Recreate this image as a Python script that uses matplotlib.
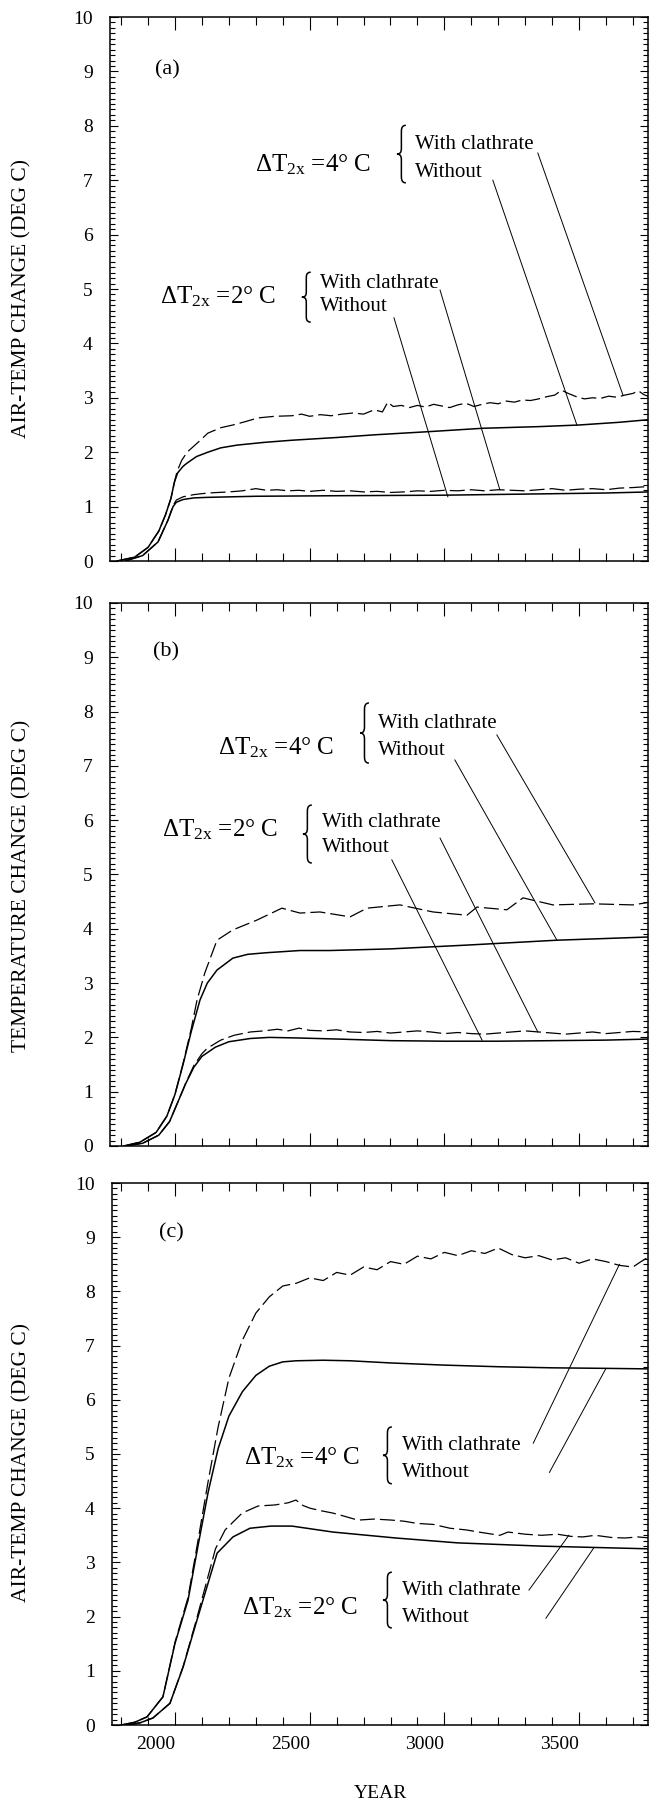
import matplotlib
matplotlib.use("Agg")
import matplotlib.pyplot as plt
from matplotlib.path import Path
from matplotlib.patches import PathPatch
from matplotlib.ticker import MultipleLocator

plt.rcParams.update({
    "font.family": ["Liberation Serif", "DejaVu Serif"],
    "mathtext.fontset": "custom",
    "mathtext.rm": "Liberation Serif",
    "mathtext.it": "Liberation Serif:italic",
    "mathtext.bf": "Liberation Serif:bold",
})

# ---------------- data ----------------
# Panel (a): air temperature change
a4_without_yr = [1785, 1850, 1900, 1940, 1965, 1985, 1998, 2010, 2030, 2045, 2080, 2122, 2170, 2230,
                 2330, 2434, 2600, 2742, 2950, 3143, 3350, 3500, 3650, 3763]
a4_without_t = [0.0, 0.07, 0.25, 0.55, 0.85, 1.15, 1.45, 1.62, 1.74, 1.80, 1.92, 2.00, 2.08, 2.13,
                2.18, 2.22, 2.27, 2.32, 2.38, 2.44, 2.47, 2.50, 2.55, 2.60]
a4_with_yr = [1785, 1850, 1900, 1940, 1965, 1985, 1998, 2008, 2025, 2045, 2090, 2122, 2170, 2215, 2260,
              2308, 2370, 2434, 2470, 2500, 2540, 2580, 2620, 2660, 2700, 2740, 2770, 2790, 2810,
              2840, 2870, 2900, 2930, 2960, 2990, 3020, 3050, 3080, 3110, 3140, 3170, 3200, 3230,
              3260, 3290, 3320, 3350, 3380, 3410, 3435, 3460, 3490, 3520, 3550, 3580, 3610, 3640,
              3670, 3700, 3720, 3740, 3760]
a4_with_t = [0.0, 0.07, 0.25, 0.55, 0.85, 1.15, 1.45, 1.65, 1.85, 2.00, 2.20, 2.35, 2.45, 2.50, 2.56,
             2.63, 2.66, 2.67, 2.70, 2.66, 2.69, 2.67, 2.70, 2.72, 2.70, 2.78, 2.74, 2.92, 2.84,
             2.86, 2.82, 2.86, 2.83, 2.88, 2.85, 2.82, 2.87, 2.90, 2.84, 2.88, 2.91, 2.89, 2.94,
             2.92, 2.96, 2.95, 2.98, 3.02, 3.05, 3.14, 3.08, 3.02, 2.98, 3.00, 2.99, 3.03, 3.01,
             3.05, 3.08, 3.13, 3.06, 3.02]
a2_without_yr = [1815, 1880, 1937, 1974, 1993, 2005, 2030, 2070, 2122, 2300, 2600, 3000, 3300, 3600, 3763]
a2_without_t = [0.0, 0.10, 0.35, 0.75, 1.00, 1.08, 1.13, 1.16, 1.17, 1.19, 1.20, 1.21, 1.23, 1.25, 1.27]
a2_with_yr = [1815, 1880, 1937, 1974, 1993, 2005, 2030, 2070, 2122, 2200, 2250, 2300, 2340, 2380, 2420,
              2460, 2500, 2550, 2600, 2650, 2700, 2750, 2800, 2850, 2900, 2950, 3000, 3050, 3100,
              3150, 3200, 3250, 3300, 3350, 3400, 3450, 3500, 3550, 3600, 3650, 3700, 3760]
a2_with_t = [0.0, 0.10, 0.35, 0.75, 1.02, 1.12, 1.18, 1.22, 1.25, 1.27, 1.29, 1.33, 1.30, 1.31, 1.29,
             1.30, 1.28, 1.30, 1.28, 1.29, 1.27, 1.28, 1.26, 1.27, 1.29, 1.28, 1.30, 1.29, 1.31,
             1.29, 1.31, 1.30, 1.29, 1.31, 1.33, 1.30, 1.32, 1.33, 1.31, 1.34, 1.35, 1.37]

# Panel (b): temperature change
b4_without_yr = [1810, 1870, 1930, 1970, 2000, 2030, 2060, 2093, 2120, 2156, 2215, 2270, 2341, 2464,
                 2575, 2800, 3084, 3418, 3763]
b4_without_t = [0.0, 0.07, 0.25, 0.55, 0.95, 1.50, 2.10, 2.69, 3.00, 3.24, 3.46, 3.53, 3.56, 3.60,
                3.60, 3.63, 3.70, 3.79, 3.85]
b4_with_yr = [1810, 1870, 1930, 1970, 2000, 2030, 2060, 2082, 2111, 2156, 2215, 2304, 2397, 2464, 2538,
              2650, 2713, 2835, 2958, 3084, 3121, 3232, 3292, 3403, 3552, 3700, 3763]
b4_with_t = [0.0, 0.07, 0.25, 0.55, 0.95, 1.52, 2.15, 2.69, 3.19, 3.79, 3.98, 4.16, 4.38, 4.29, 4.31,
             4.22, 4.38, 4.44, 4.31, 4.25, 4.40, 4.35, 4.57, 4.44, 4.46, 4.44, 4.49]
b2_without_yr = [1815, 1880, 1940, 1980, 2010, 2040, 2070, 2100, 2150, 2200, 2280, 2350, 2450, 2600,
                 2800, 3000, 3200, 3400, 3600, 3763]
b2_without_t = [0.0, 0.05, 0.20, 0.45, 0.80, 1.15, 1.45, 1.65, 1.82, 1.92, 1.98, 2.00, 1.99, 1.97,
                1.94, 1.93, 1.93, 1.94, 1.95, 1.97]
b2_with_yr = [1815, 1880, 1940, 1980, 2010, 2040, 2070, 2100, 2120, 2170, 2220, 2280, 2330, 2380, 2420,
              2460, 2500, 2550, 2600, 2650, 2700, 2750, 2800, 2850, 2900, 2950, 3000, 3050, 3100,
              3150, 3200, 3250, 3300, 3350, 3400, 3450, 3500, 3550, 3600, 3650, 3700, 3760]
b2_with_t = [0.0, 0.05, 0.20, 0.45, 0.80, 1.16, 1.48, 1.70, 1.80, 1.95, 2.04, 2.10, 2.12, 2.15, 2.12,
             2.17, 2.13, 2.12, 2.14, 2.10, 2.09, 2.11, 2.08, 2.10, 2.12, 2.10, 2.07, 2.09, 2.07,
             2.06, 2.08, 2.10, 2.12, 2.10, 2.08, 2.06, 2.08, 2.10, 2.07, 2.09, 2.11, 2.10]

# Panel (c): air temperature change
c4_without_yr = [1800, 1850, 1896, 1955, 2000, 2048, 2085, 2123, 2160, 2200, 2250, 2300, 2350, 2400,
                 2450, 2550, 2650, 2800, 3000, 3200, 3400, 3600, 3763]
c4_without_t = [0.0, 0.05, 0.15, 0.52, 1.51, 2.30, 3.30, 4.30, 5.10, 5.70, 6.15, 6.45, 6.62, 6.70,
                6.72, 6.73, 6.72, 6.68, 6.64, 6.61, 6.59, 6.58, 6.57]
c4_with_yr = [1800, 1850, 1896, 1955, 2000, 2048, 2085, 2123, 2160, 2200, 2250, 2300, 2350, 2400, 2450,
              2500, 2550, 2600, 2650, 2700, 2750, 2800, 2850, 2900, 2950, 3000, 3050, 3100, 3150,
              3200, 3250, 3300, 3350, 3400, 3450, 3500, 3550, 3600, 3650, 3700, 3730, 3763]
c4_with_t = [0.0, 0.05, 0.15, 0.52, 1.53, 2.35, 3.40, 4.50, 5.50, 6.40, 7.10, 7.60, 7.90, 8.10, 8.15,
             8.25, 8.20, 8.35, 8.30, 8.45, 8.40, 8.55, 8.50, 8.65, 8.60, 8.72, 8.66, 8.75, 8.70,
             8.80, 8.68, 8.62, 8.66, 8.58, 8.62, 8.52, 8.60, 8.55, 8.48, 8.45, 8.55, 8.65]
c2_without_yr = [1820, 1870, 1918, 1981, 2030, 2078, 2104, 2156, 2215, 2278, 2356, 2434, 2586, 2820,
                 3050, 3362, 3763]
c2_without_t = [0.0, 0.04, 0.13, 0.40, 1.07, 1.88, 2.31, 3.17, 3.47, 3.63, 3.67, 3.67, 3.56, 3.45,
                3.36, 3.30, 3.25]
c2_with_yr = [1820, 1870, 1918, 1981, 2030, 2078, 2104, 2150, 2186, 2249, 2308, 2371, 2420, 2449, 2475,
              2501, 2545, 2586, 2630, 2679, 2740, 2805, 2850, 2898, 2960, 3021, 3080, 3140, 3206,
              3236, 3300, 3362, 3420, 3470, 3514, 3560, 3620, 3670, 3720, 3763]
c2_with_t = [0.0, 0.04, 0.13, 0.40, 1.08, 1.92, 2.40, 3.25, 3.60, 3.91, 4.04, 4.06, 4.10, 4.15, 4.05,
             4.00, 3.95, 3.91, 3.85, 3.78, 3.80, 3.78, 3.76, 3.72, 3.70, 3.63, 3.60, 3.55, 3.50,
             3.56, 3.52, 3.50, 3.52, 3.48, 3.47, 3.50, 3.46, 3.45, 3.47, 3.45]

year_ticks = [2000, 2500, 3000, 3500]
year_tick_labels = ["2000", "2500", "3000", "3500"]
series_labels = ["With clathrate", "Without"]
sensitivity_labels = [r"$\Delta\mathrm{T}_{\mathrm{2x}}$ =4° C", r"$\Delta\mathrm{T}_{\mathrm{2x}}$ =2° C"]
panel_letters = ["(a)", "(b)", "(c)"]
y_titles = ["AIR-TEMP CHANGE (DEG C)", "TEMPERATURE CHANGE (DEG C)", "AIR-TEMP CHANGE (DEG C)"]

# annotation anchors (year, value): sensitivity text, brace (tip x, bottom, top), word x, with y, without y
annot_a = [(2297, 7.28, 2824, 6.95, 8.01, 2891, 7.65, 7.15),
           (1944, 4.85, 2471, 4.39, 5.31, 2538, 5.11, 4.67)]
annot_b = [(2160, 7.33, 2687, 7.05, 8.16, 2754, 7.79, 7.29),
           (1952, 5.82, 2475, 5.21, 6.28, 2546, 5.95, 5.49)]
annot_c = [(2256, 4.93, 2772, 4.45, 5.50, 2843, 5.15, 4.66),
           (2249, 2.16, 2772, 1.79, 2.82, 2843, 2.49, 1.99)]
# leader lines: ((x0, y0), (x1, y1))
leaders_a = [((3347, 7.50), (3663, 3.05)), ((3180, 7.00), (3492, 2.50)),
             ((2984, 4.98), (3206, 1.31)), ((2813, 4.47), (3013, 1.18))]
leaders_b = [((3195, 7.57), (3559, 4.48)), ((3039, 7.11), (3418, 3.79)),
             ((2984, 5.67), (3347, 2.10)), ((2805, 5.27), (3140, 1.95))]
leaders_c = [((3330, 5.20), (3650, 8.50)), ((3390, 4.66), (3600, 6.58)),
             ((3314, 2.49), (3462, 3.50)), ((3377, 1.97), (3555, 3.27))]

# ---------------- layout ----------------
W, H = 652, 1803
fig = plt.figure(figsize=(W / 100, H / 100), dpi=100)


def axes_px(left, top, right, bottom):
    return fig.add_axes([left / W, 1 - bottom / H, (right - left) / W, (bottom - top) / H])


ax_a = axes_px(109.5, 17, 648, 561)
ax_b = axes_px(109.5, 603, 648, 1146)
ax_c = axes_px(111.5, 1183, 648, 1725)

BRACE_W = 33  # years


def style(ax, x0, show_x):
    ax.set_xlim(x0, 3756)
    ax.set_ylim(0, 10)
    ax.xaxis.set_major_locator(MultipleLocator(500))
    ax.xaxis.set_minor_locator(MultipleLocator(100))
    ax.yaxis.set_major_locator(MultipleLocator(1))
    ax.yaxis.set_minor_locator(MultipleLocator(0.1))
    ax.tick_params(which="both", direction="in", top=True, right=True, width=0.8, color="black")
    ax.tick_params(axis="x", which="major", length=9.4, pad=8, labelsize=14)
    ax.tick_params(axis="x", which="minor", length=5.8)
    ax.tick_params(axis="y", which="major", length=5.8, pad=12, labelsize=14)
    ax.tick_params(axis="y", which="minor", length=3.6)
    ax.set_yticks(range(0, 11))
    ax.set_yticklabels([str(v) for v in range(0, 11)])
    if show_x:
        ax.set_xticks(year_ticks, year_tick_labels, ha="right")
    else:
        ax.tick_params(labelbottom=False)
    for s in ax.spines.values():
        s.set_linewidth(1.1)


def brace(ax, x_tip, y0, y1):
    w = BRACE_W
    pts = [(1, 1), (0.45, 0.99), (0.5, 0.93), (0.5, 0.82), (0.5, 0.6),
           (0.5, 0.53), (0.35, 0.5), (0, 0.5), (0.35, 0.5), (0.5, 0.47), (0.5, 0.4),
           (0.5, 0.18), (0.5, 0.07), (0.45, 0.01), (1, 0)]
    codes = [Path.MOVETO, Path.CURVE4, Path.CURVE4, Path.CURVE4, Path.LINETO,
             Path.CURVE4, Path.CURVE4, Path.CURVE4, Path.CURVE4, Path.CURVE4, Path.CURVE4,
             Path.LINETO, Path.CURVE4, Path.CURVE4, Path.CURVE4]
    verts = [(x_tip + px * w, y0 + py * (y1 - y0)) for px, py in pts]
    ax.add_patch(PathPatch(Path(verts, codes), fill=False, lw=1.1, ec="black",
                           transform=ax.transData, clip_on=False))


def annotate(ax, annots, leaders):
    for lab, (xs, ys, xb, yb0, yb1, xw, yw, yo) in zip(sensitivity_labels, annots):
        ax.text(xs, ys, lab, fontsize=18, ha="left", va="center")
        brace(ax, xb, yb0, yb1)
        ax.text(xw, yw, series_labels[0], fontsize=15, ha="left", va="center")
        ax.text(xw, yo, series_labels[1], fontsize=15, ha="left", va="center")
    for (x0, y0), (x1, y1) in leaders:
        ax.plot([x0, x1], [y0, y1], color="black", lw=0.7)


def curves(ax, pairs):
    for (yr_w, t_w), (yr_o, t_o) in pairs:
        ax.plot(yr_o, t_o, color="black", lw=1.1)
        ax.plot(yr_w, t_w, color="black", lw=0.9, dashes=(12, 4))


style(ax_a, 1757, False)
style(ax_b, 1757, False)
style(ax_c, 1764, True)

curves(ax_a, [((a4_with_yr, a4_with_t), (a4_without_yr, a4_without_t)),
              ((a2_with_yr, a2_with_t), (a2_without_yr, a2_without_t))])
curves(ax_b, [((b4_with_yr, b4_with_t), (b4_without_yr, b4_without_t)),
              ((b2_with_yr, b2_with_t), (b2_without_yr, b2_without_t))])
curves(ax_c, [((c4_with_yr, c4_with_t), (c4_without_yr, c4_without_t)),
              ((c2_with_yr, c2_with_t), (c2_without_yr, c2_without_t))])

annotate(ax_a, annot_a, leaders_a)
annotate(ax_b, annot_b, leaders_b)
annotate(ax_c, annot_c, leaders_c)

for ax, letter, xy in zip([ax_a, ax_b, ax_c], panel_letters, [(1970, 9.03), (1967, 9.1), (1985, 9.08)]):
    ax.text(xy[0], xy[1], letter, fontsize=16, ha="center", va="center")

for title, yc in zip(y_titles, [298, 886, 1463]):
    fig.text(22 / W, 1 - yc / H, title, rotation=90, ha="center", va="center", fontsize=15.5)

fig.text(380 / W, 1 - 1793 / H, "YEAR", ha="center", va="center", fontsize=14)

fig.savefig("out.png", dpi=100)
